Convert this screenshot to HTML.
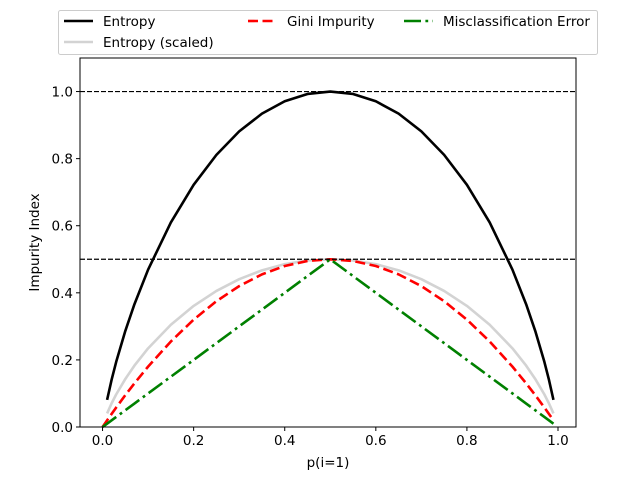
<!DOCTYPE html>
<html><head><meta charset="utf-8"><style>
html,body{margin:0;padding:0;background:#fff;}
svg text{font-family:"DejaVu Sans","Liberation Sans",sans-serif;font-size:13.5px;fill:#000;}
</style></head><body>
<svg id="chart" width="640" height="480" xmlns="http://www.w3.org/2000/svg">
<rect width="640" height="480" fill="#fff"/>
<g id="plot"></g>
</svg>
<script>
const pVals = [0,0.01,0.02,0.03,0.05,0.07,0.1,0.15,0.2,0.25,0.3,0.35,0.4,0.45,0.5,0.55,0.6,0.65,0.7,0.75,0.8,0.85,0.9,0.93,0.95,0.97,0.98,0.99];
const entropyVals = [null,0.0808,0.1414,0.1944,0.2864,0.366,0.469,0.6098,0.7219,0.8113,0.8813,0.9341,0.971,0.9928,1.0,0.9928,0.971,0.9341,0.8813,0.8113,0.7219,0.6098,0.469,0.366,0.2864,0.1944,0.1414,0.0808];
const giniVals = [0,0.0198,0.0392,0.0582,0.095,0.1302,0.18,0.255,0.32,0.375,0.42,0.455,0.48,0.495,0.5,0.495,0.48,0.455,0.42,0.375,0.32,0.255,0.18,0.1302,0.095,0.0582,0.0392,0.0198];
const errorVals = [0,0.01,0.02,0.03,0.05,0.07,0.1,0.15,0.2,0.25,0.3,0.35,0.4,0.45,0.5,0.45,0.4,0.35,0.3,0.25,0.2,0.15,0.1,0.07,0.05,0.03,0.02,0.01];
const xTicks = [0,0.2,0.4,0.6,0.8,1.0];
const yTicks = [0,0.2,0.4,0.6,0.8,1.0];
const xTickLabels = ["0.0","0.2","0.4","0.6","0.8","1.0"];
const yTickLabels = ["0.0","0.2","0.4","0.6","0.8","1.0"];
const refLines = [0.5,1.0];

const L=80,R=576,T=58,B=427;
const xmin=-0.0495,xmax=1.0395,ymin=0,ymax=1.1;
const sx=v=>L+(v-xmin)/(xmax-xmin)*(R-L);
const sy=v=>B-(v-ymin)/(ymax-ymin)*(B-T);
const NS="http://www.w3.org/2000/svg";
const g=document.getElementById('plot');
function mk(tag,attrs,parent){const e=document.createElementNS(NS,tag);for(const k in attrs)e.setAttribute(k,attrs[k]);(parent||g).appendChild(e);return e;}
const LW=2.6;
const DASH='10,4.5', DASHDOT='17,4.4,2.8,4.4';
function series(vals,color,dash,name,scale){
  let pts=[];
  pVals.forEach((p,i)=>{const v=vals[i];if(v!==null)pts.push(sx(p).toFixed(2)+','+sy(v*scale).toFixed(2));});
  const e=mk('polyline',{points:pts.join(' '),fill:'none',stroke:color,'stroke-width':LW,'stroke-dasharray':dash,'stroke-linejoin':'round'});
  
  
}
series(entropyVals,'#000','','entropy-line',1);
series(entropyVals,'lightgray','','entropy-scaled-line',0.5);
series(giniVals,'red',DASH,'gini-line',1);
series(errorVals,'green',DASHDOT,'misclassification-error-line',1);

refLines.forEach(v=>{
  const e=mk('line',{x1:L,x2:R,y1:sy(v),y2:sy(v),stroke:'#000','stroke-width':1.2,'stroke-dasharray':'5,2'});
  
  
});

const frame=mk('rect',{x:L,y:T,width:R-L,height:B-T,fill:'none',stroke:'#000','stroke-width':1});



xTicks.forEach((v,i)=>{
  const x=sx(v);
  mk('line',{x1:x,x2:x,y1:B,y2:B+4,stroke:'#000'});
  const t=mk('text',{x:x,y:B+18,'text-anchor':'middle'});t.textContent=xTickLabels[i];
  
  
});
yTicks.forEach((v,i)=>{
  const y=sy(v);
  mk('line',{x1:L-4,x2:L,y1:y,y2:y,stroke:'#000'});
  const t=mk('text',{x:L-7,y:y+5,'text-anchor':'end'});t.textContent=yTickLabels[i];
  
  
});
const xt=mk('text',{x:(L+R)/2,y:467,'text-anchor':'middle'});xt.textContent='p(i=1)';


const yt=mk('text',{x:0,y:0,'text-anchor':'middle',transform:'translate(39,'+((T+B)/2)+') rotate(-90)'});yt.textContent='Impurity Index';



const lg=mk('g',{});


mk('rect',{x:58.5,y:10.5,width:539,height:44,rx:2,fill:'#fff',stroke:'#ccc'},lg);
const entries=[['Entropy','#000','',64,21],['Entropy (scaled)','lightgray','',64,42],['Gini Impurity','red',DASH,248,21],['Misclassification Error','green',DASHDOT,404,21]];
entries.forEach(en=>{
  const eg=mk('g',{},lg);
  
  
  mk('line',{x1:en[3],x2:en[3]+29,y1:en[4],y2:en[4],stroke:en[1],'stroke-width':LW,'stroke-dasharray':en[2]},eg);
  const t=mk('text',{x:en[3]+39,y:en[4]+5},eg);t.textContent=en[0];
});
</script>
</body></html>
